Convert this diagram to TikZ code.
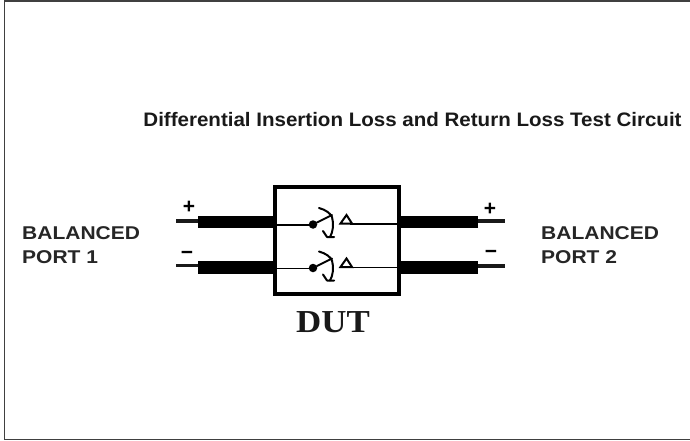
\documentclass[tikz,border=0pt]{standalone}
\usepackage{fontspec}
\setmainfont{Liberation Sans}
\newfontfamily\serifdut{Liberation Serif}
\newcommand{\widen}[1]{\scalebox{1.135}[1]{#1}}
\tikzset{
  wire/.style={line width=1.9pt,black},
  lead/.style={line width=3.4pt,black!90},
  coax/.style={line width=12.5pt,black},
  sw/.style={line width=2pt,black,line cap=round,line join=round},
  lbl/.style={font=\bfseries\fontsize{18.5}{24}\selectfont,align=left,anchor=north west,inner sep=0pt,text=black!85},
  sign/.style={font=\bfseries\fontsize{21}{21}\selectfont,inner sep=0pt}
}
\begin{document}
\begin{tikzpicture}[x=1pt,y=-1pt]
\useasboundingbox (0,0) rectangle (690,441);
\fill[white] (0,0) rectangle (690,441);
\coordinate (tl) at (4.5,1);
\coordinate (tr) at (690,1);
\coordinate (bl) at (4.5,439.5);
\coordinate (br) at (690,439.5);
\draw[line width=1.2pt,black!75] (tr) -- (tl) -- (bl) -- (br);
\node[font=\bfseries\fontsize{19.5}{21}\selectfont,inner sep=0pt,text=black!90] (title) at (412.5,120) {\scalebox{1.053}[1]{Differential Insertion Loss and Return Loss Test Circuit}};
% leads
\coordinate (la) at (176,221); \coordinate (lb) at (198,221);
\coordinate (lc) at (176,265.5); \coordinate (ld) at (198,265.5);
\coordinate (ra) at (478,221); \coordinate (rb) at (505,221);
\coordinate (rc) at (478,266); \coordinate (rd) at (505,266);
\draw[lead] (la) -- (lb); \draw[lead] (lc) -- (ld);
\draw[lead] (ra) -- (rb); \draw[lead] (rc) -- (rd);
\node[draw=black,line width=3.2pt,minimum width=124pt,minimum height=107pt,inner sep=0pt,fill=white] (dut) at (337,240.5) {};
\coordinate (c1) at (198,222); \coordinate (c2) at (198,267.5);
\coordinate (c3) at (478,222); \coordinate (c4) at (478,267.5);
\draw[coax] (c1) -- (c1-|dut.west); \draw[coax] (c2) -- (c2-|dut.west);
\draw[coax] (c3) -- (c3-|dut.east); \draw[coax] (c4) -- (c4-|dut.east);
% switches
\foreach \n/\dy/\ly/\ry in {u/0/225/224,d/43.5/268.5/267.5}{
  \begin{scope}[yshift=-\dy pt]
    \node[circle,fill=black,minimum size=8.5pt,inner sep=0pt] (dot\n) at (313,224.5) {};
    \draw[sw] (dot\n) -- (332,215);
    \draw[sw] (319,208) .. controls (326,210) and (330,213) .. (332,217)
              .. controls (334,224) and (333,232) .. (330,237);
    \draw[sw] (323,231) -- (327,237) -- (334,237);
    \draw[line width=2pt,black,line join=miter] (340.5,223.5) -- (346.5,215) -- (352,223.5) -- cycle;
  \end{scope}
  \coordinate (wl\n) at (dut.west|-0,\ly);
  \coordinate (wr\n) at (dut.east|-0,\ry);
  \coordinate (tri\n) at (350,\ry);
  \draw[wire] (wl\n) -- (dot\n.center|-wl\n);
  \draw[wire] (tri\n) -- (wr\n);
}
\node[sign] (pl) at (189,207) {+};
\node[sign] (ml) at (187,255) {\textminus};
\node[sign] (pr) at (490,209) {+};
\node[sign] (mr) at (491,254) {\textminus};
\node[lbl] (p1) at (22,226.5) {\widen{BALANCED}\\\widen{PORT 1}};
\node[lbl] (p2) at (541,226.5) {\widen{BALANCED}\\\widen{PORT 2}};
\node[font=\serifdut\bfseries\fontsize{32}{34}\selectfont,inner sep=0pt,text=black!90] (dutl) at (333,322.5) {\scalebox{1.09}[1]{DUT}};
\end{tikzpicture}
\end{document}
